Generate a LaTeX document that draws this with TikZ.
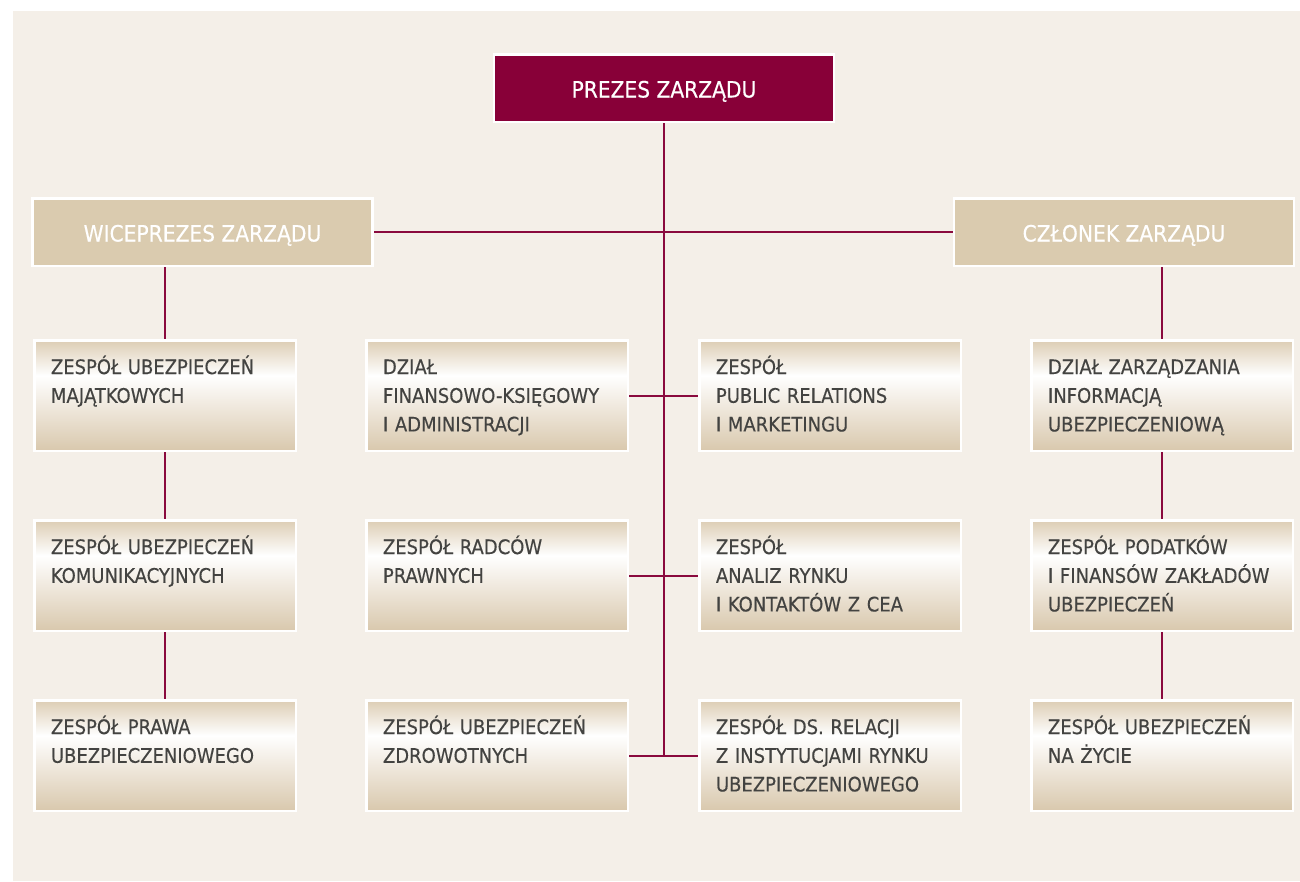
\documentclass[tikz,border=0pt]{standalone}
\usepackage{fontspec}
\setmainfont{DejaVu Sans Condensed}[FakeBold=0.35]
\definecolor{pagebg}{HTML}{F4EFE8}
\definecolor{claret}{HTML}{880038}
\definecolor{claretline}{HTML}{8A0A3E}
\definecolor{headbeige}{HTML}{DACBAF}
\definecolor{gradtop}{HTML}{DCCDB4}
\definecolor{gradbot}{HTML}{D9C8AD}
\definecolor{txtgray}{HTML}{434341}
\pgfdeclareverticalshading{boxshade}{100bp}{color(0bp)=(gradbot); color(25bp)=(gradbot); color(59bp)=(white); color(75bp)=(gradtop); color(100bp)=(gradtop)}
\pgfdeclarelayer{back}
\pgfdeclarelayer{lines}
\pgfsetlayers{back,lines,main}
\begin{document}
\begin{tikzpicture}[x=1pt,y=1pt,
  head/.style={draw=white,line width=2.5pt,inner sep=0pt,outer sep=0pt,minimum width=340pt,minimum height=67.5pt,text height=19pt,text depth=0pt,font=\fontsize{22.5}{27}\selectfont,text=white},
  prez/.style={head,fill=claret},
  vice/.style={head,fill=headbeige},
  unit/.style={draw=white,line width=2.5pt,inner sep=0pt,outer sep=0pt,minimum width=261.5pt,minimum height=110.5pt,shading=boxshade},
  utext/.style={anchor=base west,inner sep=0pt,text width=250pt,align=left,font=\fontsize{20}{28.7}\selectfont,text=txtgray},
  conn/.style={draw=claretline,line width=2pt}]
\useasboundingbox (0,0) rectangle (1300,-881);
\begin{pgfonlayer}{back}
\fill[white] (0,0) rectangle (1300,-881);
\fill[pagebg] (13,-11) rectangle (1300,-880.5);
\end{pgfonlayer}

% header boxes
\node[prez] (prez) at (664,-88) {PREZES ZARZĄDU};
\node[vice] (vice) at (202.5,-232) {WICEPREZES ZARZĄDU};
\node[vice] (czl) at (1124,-232) {CZŁONEK ZARZĄDU};

% unit boxes
\node[unit] (a1) at (165,-395.5) {};
\node[unit] (a2) at (165,-575.5) {};
\node[unit] (a3) at (165,-755.5) {};
\node[unit] (b1) at (497,-395.5) {};
\node[unit] (b2) at (497,-575.5) {};
\node[unit] (b3) at (497,-755.5) {};
\node[unit] (c1) at (830,-395.5) {};
\node[unit] (c2) at (830,-575.5) {};
\node[unit] (c3) at (830,-755.5) {};
\node[unit] (d1) at (1162,-395.5) {};
\node[unit] (d2) at (1162,-575.5) {};
\node[unit] (d3) at (1162,-755.5) {};

% texts
\node[utext] (ta1) at ([xshift=16.5pt,yshift=-33.8pt]a1.north west) {ZESPÓŁ UBEZPIECZEŃ\\MAJĄTKOWYCH};
\node[utext] (ta2) at ([xshift=16.5pt,yshift=-33.8pt]a2.north west) {ZESPÓŁ UBEZPIECZEŃ\\KOMUNIKACYJNYCH};
\node[utext] (ta3) at ([xshift=16.5pt,yshift=-33.8pt]a3.north west) {ZESPÓŁ PRAWA\\UBEZPIECZENIOWEGO};
\node[utext] (tb1) at ([xshift=16.5pt,yshift=-33.8pt]b1.north west) {DZIAŁ\\FINANSOWO-KSIĘGOWY\\I ADMINISTRACJI};
\node[utext] (tb2) at ([xshift=16.5pt,yshift=-33.8pt]b2.north west) {ZESPÓŁ RADCÓW\\PRAWNYCH};
\node[utext] (tb3) at ([xshift=16.5pt,yshift=-33.8pt]b3.north west) {ZESPÓŁ UBEZPIECZEŃ\\ZDROWOTNYCH};
\node[utext] (tc1) at ([xshift=16.5pt,yshift=-33.8pt]c1.north west) {ZESPÓŁ\\PUBLIC RELATIONS\\I MARKETINGU};
\node[utext] (tc2) at ([xshift=16.5pt,yshift=-33.8pt]c2.north west) {ZESPÓŁ\\ANALIZ RYNKU\\I KONTAKTÓW Z CEA};
\node[utext] (tc3) at ([xshift=16.5pt,yshift=-33.8pt]c3.north west) {ZESPÓŁ DS. RELACJI\\Z INSTYTUCJAMI RYNKU\\UBEZPIECZENIOWEGO};
\node[utext] (td1) at ([xshift=16.5pt,yshift=-33.8pt]d1.north west) {DZIAŁ ZARZĄDZANIA\\INFORMACJĄ\\UBEZPIECZENIOWĄ};
\node[utext] (td2) at ([xshift=16.5pt,yshift=-33.8pt]d2.north west) {ZESPÓŁ PODATKÓW\\I FINANSÓW ZAKŁADÓW\\UBEZPIECZEŃ};
\node[utext] (td3) at ([xshift=16.5pt,yshift=-33.8pt]d3.north west) {ZESPÓŁ UBEZPIECZEŃ\\NA ŻYCIE};

% connectors
\begin{pgfonlayer}{lines}
\draw[conn] (prez.south) -- (prez.south |- b3.east);
\draw[conn] (vice.east) -- (czl.west);
\draw[conn] (b1.east) -- (c1.west);
\draw[conn] (b2.east) -- (c2.west);
\draw[conn] (b3.east) -- (c3.west);
\draw[conn] (a1.north |- vice.south) -- (a1.north);
\draw[conn] (a1.south) -- (a2.north);
\draw[conn] (a2.south) -- (a3.north);
\draw[conn] (d1.north |- czl.south) -- (d1.north);
\draw[conn] (d1.south) -- (d2.north);
\draw[conn] (d2.south) -- (d3.north);
\end{pgfonlayer}
\end{tikzpicture}
\end{document}
